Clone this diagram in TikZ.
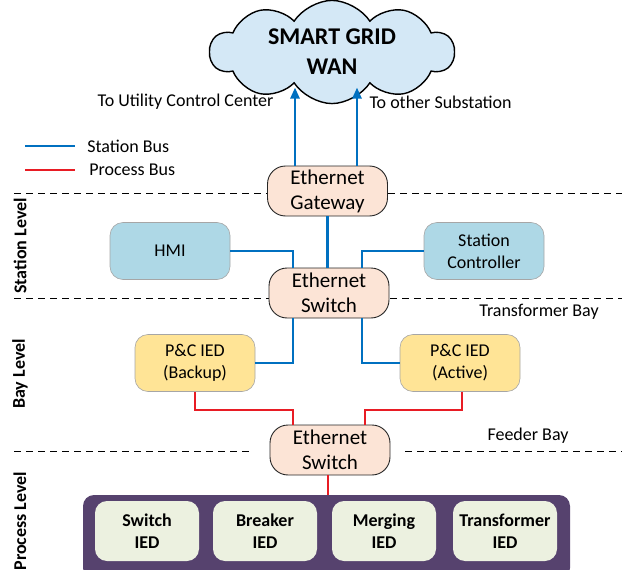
\documentclass[tikz,border=0pt]{standalone}
\usepackage{fontspec}
\setmainfont{Carlito}
\usepackage{xcolor}
\usetikzlibrary{shapes.symbols, arrows.meta, positioning}

\definecolor{busblue}{RGB}{0,112,192}
\definecolor{busred}{RGB}{232,28,36}
\definecolor{cloudfill}{RGB}{212,232,246}
\definecolor{ethfill}{RGB}{252,228,214}
\definecolor{stafill}{RGB}{174,216,230}
\definecolor{pcfill}{RGB}{255,228,150}
\definecolor{iedfill}{RGB}{236,241,224}
\definecolor{procfill}{RGB}{86,66,110}

\begin{document}
\begin{tikzpicture}[
    x=1pt, y=-1pt,
    font=\fontsize{18}{22}\selectfont,
    % Node styles
    wancloud/.style={cloud, cloud puffs=10, cloud puff arc=115, aspect=2.6, draw=black, line width=1.4pt, fill=cloudfill, minimum width=244pt, minimum height=90pt, align=center, font=\fontsize{24}{30}\selectfont\bfseries},
    ethernet/.style={rectangle, draw=black!85, line width=0.9pt, fill=ethfill, rounded corners=18pt, minimum width=120pt, minimum height=50pt, inner sep=1pt, align=center, font=\fontsize{21}{25}\selectfont},
    station/.style={rectangle, draw=gray!70, line width=0.6pt, fill=stafill, rounded corners=13pt, minimum width=120pt, minimum height=57pt, align=center},
    pcied/.style={station, fill=pcfill},
    procied/.style={rectangle, fill=iedfill, rounded corners=12pt, minimum width=104pt, minimum height=60pt, align=center, font=\fontsize{18}{22}\selectfont\bfseries},
    stationbus/.style={busblue, line width=2.5pt},
    processbus/.style={busred, line width=2.5pt},
    levelline/.style={dash pattern=on 7pt off 5pt, line width=1pt},
    levellabel/.style={rotate=90, font=\fontsize{18}{22}\selectfont\bfseries},
]
\clip (0,0) rectangle (625,570);

% Cloud
\node[wancloud] (wan) at (332, 52) {SMART GRID\\WAN};

% Legend
\draw[stationbus, line width=2pt] (25,146) -- (75,146) node[right, black, xshift=8pt] (lgsta) {Station Bus};
\draw[processbus, line width=2pt] (25,170) -- (75,170) node[right, black, xshift=10pt] (lgproc) {Process Bus};

% Level separators
\draw[levelline] (14,193) -- (267,193);
\draw[levelline] (388,193) -- (622,193);
\draw[levelline] (14,298) -- (270,298);
\draw[levelline] (390,298) -- (622,298);
\draw[levelline] (14,451) -- (253,451);
\draw[levelline] (405,451) -- (622,451);

% Level labels
\node[levellabel] (lvsta) at (20, 246) {Station Level};
\node[levellabel] (lvbay) at (20, 374) {Bay Level};
\node[levellabel] (lvproc) at (20, 521) {Process Level};

% Station level
\node[ethernet] (gw) at (327.5, 191) {Ethernet\\Gateway};
\node[station] (hmi) at (170, 251) {HMI};
\node[station] (sc) at (484, 251) {Station\\Controller};
\node[ethernet] (sw1) at (329, 293) {Ethernet\\Switch};
\node (tbay) at (539, 312) {Transformer Bay};

% Uplinks to WAN
\draw[stationbus, -{Triangle[width=9pt,length=11pt]}] ([xshift=-32.5pt]gw.north) -- ++(0,-78);
\draw[stationbus, -{Triangle[width=9pt,length=11pt]}] ([xshift=29.5pt]gw.north) -- ++(0,-78);
\node[anchor=east] (toucc) at (277, 102) {To Utility Control Center};
\node[anchor=west] (toss) at (366, 102) {To other Substation};

% Station bus
\draw[stationbus] (gw.south) -- (gw.south |- sw1.north);
\draw[stationbus] (hmi.east) -| ([xshift=-36pt]sw1.north);
\draw[stationbus] (sc.west) -| ([xshift=33pt]sw1.north);

% Bay level
\node[pcied] (pcb) at (195, 363) {P\&C IED\\(Backup)};
\node[pcied] (pca) at (460, 363) {P\&C IED\\(Active)};
\draw[stationbus] ([xshift=-36pt]sw1.south) |- (pcb.east);
\draw[stationbus] ([xshift=33pt]sw1.south) |- (pca.west);

% Process bus
\node[ethernet] (sw2) at (330, 450) {Ethernet\\Switch};
\node (fbay) at (528, 436) {Feeder Bay};
\draw[processbus] (pcb.south) -- ++(0,18) -| ([xshift=-37pt]sw2.north);
\draw[processbus] ([xshift=2pt]pca.south) -- ++(0,18) -| ([xshift=35pt]sw2.north);

% Process level
\node[rectangle, fill=procfill, rounded corners=11pt, minimum width=487pt, minimum height=84pt] (proc) at (326.5, 537) {};
\draw[processbus] ([xshift=-2pt]sw2.south) -- ([xshift=-2pt]sw2.south |- proc.north);
\node[procied] (swied) at (147, 531) {Switch\\IED};
\node[procied] (brkied) at (265, 531) {Breaker\\IED};
\node[procied] (mrgied) at (384, 531) {Merging\\IED};
\node[procied] (trfied) at (505, 531) {Transformer\\IED};

\end{tikzpicture}
\end{document}
